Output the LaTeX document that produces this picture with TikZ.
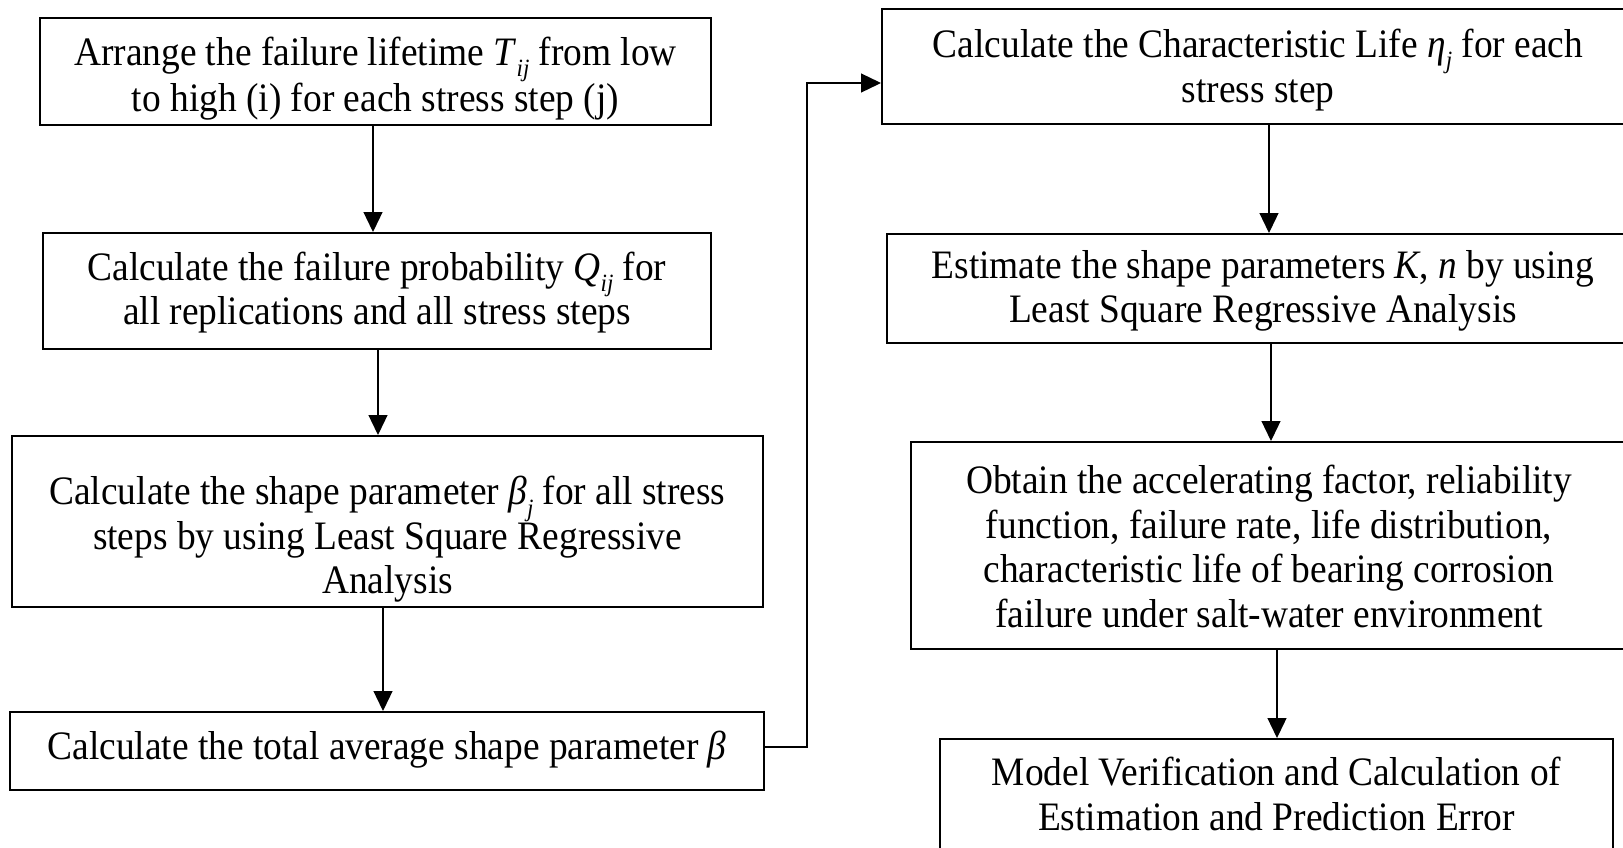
\documentclass[tikz,border=0pt]{standalone}
\usepackage{fontspec}
\setmainfont{Liberation Serif}
\usetikzlibrary{arrows.meta}
\newcommand{\lowsub}[1]{\smash{\raisebox{-0.28em}{\fontsize{11.5}{11.5}\selectfont\textit{#1}}}}
\newcommand{\tl}[2][0pt]{\raisebox{-#1}[\height][\depth]{\scalebox{1}[1.08]{\begin{tabular}{@{}c@{}}#2\end{tabular}}}}
\begin{document}
\begin{tikzpicture}[x=0.5pt,y=-0.5pt,
  box/.style={draw,line width=1pt,inner sep=0pt,align=center,
    font=\fontsize{18.7}{20.6}\selectfont},
  arr/.style={line width=0.65pt,-{Triangle[length=10pt,width=9.5pt]}}]
\useasboundingbox (0,0) rectangle (1623,847);
\clip (0,0) rectangle (1623,847);
\fill[white] (0,0) rectangle (1623,847);
% left column
\node[box,minimum width=335.5pt,minimum height=53.5pt] (b1) at (375.5,71.5)
  {\tl[4pt]{Arrange the failure lifetime \textit{T}\lowsub{ij} from low\\[1pt]to high (i) for each stress step (j)}};
\node[box,minimum width=334pt,minimum height=58pt] (b2) at (377,291)
  {\tl[1.2pt]{Calculate the failure probability \textit{Q}\lowsub{ij} for\\all replications and all stress steps}};
\node[box,minimum width=375.5pt,minimum height=85.5pt] (b3) at (387.5,521.5)
  {\tl[9.5pt]{Calculate the shape parameter \textit{β}\lowsub{j} for all stress\\steps by using Least Square Regressive\\Analysis}};
\node[box,minimum width=377pt,minimum height=39pt] (b4) at (387,751)
  {\tl{Calculate the total average shape parameter \textit{β}}};
% right column
\node[box,minimum width=376pt,minimum height=57.5pt] (b5) at (1258,66.5)
  {\tl[2.2pt]{Calculate the Characteristic Life \textit{η}\lowsub{j} for each\\stress step}};
\node[box,minimum width=376pt,minimum height=54.5pt] (b6) at (1263,288.5)
  {\tl[1.5pt]{Estimate the shape parameters \textit{K}, \textit{n} by using\\Least Square Regressive Analysis}};
\node[box,minimum width=358pt,minimum height=103.5pt] (b7) at (1269,545.5)
  {\tl[3pt]{Obtain the accelerating factor, reliability\\function, failure rate, life distribution,\\characteristic life of bearing corrosion\\failure under salt-water environment}};
\node[box,minimum width=336.5pt,minimum height=55pt] (b8) at (1276.5,794)
  {\tl[2.5pt]{Model Verification and Calculation of\\Estimation and Prediction Error}};
% arrow positions
\coordinate (x1) at (373,0);
\coordinate (x2) at (378,0);
\coordinate (x3) at (383,0);
\coordinate (x5) at (1269,0);
\coordinate (x6) at (1271,0);
\coordinate (x7) at (1277,0);
\coordinate (turn) at (807,83);
\draw[arr] (b1.south -| x1) -- (b2.north -| x1);
\draw[arr] (b2.south -| x2) -- (b3.north -| x2);
\draw[arr] (b3.south -| x3) -- (b4.north -| x3);
\draw[arr] ([yshift=2pt]b4.east) -| (turn) -- (turn -| b5.west);
\draw[arr] (b5.south -| x5) -- (b6.north -| x5);
\draw[arr] (b6.south -| x6) -- (b7.north -| x6);
\draw[arr] (b7.south -| x7) -- (b8.north -| x7);
\end{tikzpicture}
\end{document}
